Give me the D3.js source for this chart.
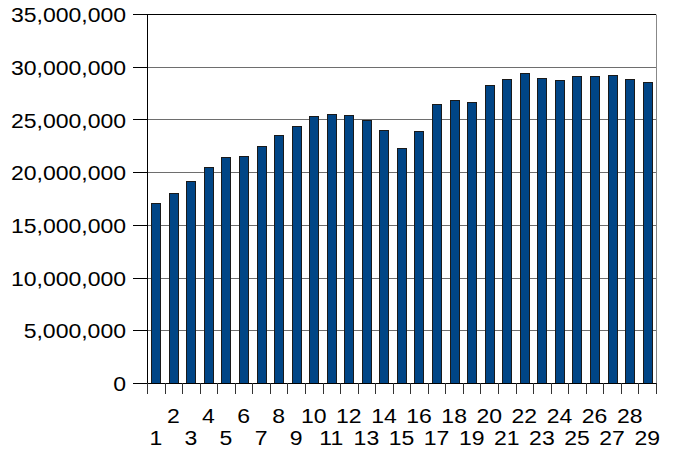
<!DOCTYPE html>
<html>
<head>
<meta charset="utf-8">
<script src="https://cdn.jsdelivr.net/npm/d3@7"></script>
<style>
html, body { margin: 0; padding: 0; background: #fff; }
svg { display: block; }
text { font-family: "Liberation Sans", Arial, sans-serif; fill: #000; }
</style>
</head>
<body>
<svg id="chart" width="674" height="450"></svg>
<script>
const categories = d3.range(1, 30).map(String);
const values = [
  17110000, 18020000, 19160000, 20530000, 21420000, 21540000, 22440000, 23480000,
  24340000, 25290000, 25480000, 25380000, 24940000, 23990000, 22300000, 23860000,
  26460000, 26870000, 26680000, 28240000, 28840000, 29440000, 28960000, 28740000,
  29150000, 29120000, 29250000, 28870000, 28520000
];
const yTicks = [0, 5000000, 10000000, 15000000, 20000000, 25000000, 30000000, 35000000];

const svg = d3.select("#chart");
const pLeft = 147, pRight = 656, pTop = 14, pBottom = 383;
const sx = 1.18, fs = 19.5;

const x = d3.scaleBand().domain(categories).range([pLeft, pRight]).paddingInner(0).paddingOuter(0);
const y = d3.scaleLinear().domain([0, 35000000]).range([pBottom, pTop]);
const fmt = d3.format(",");

// gridlines
svg.append("g").selectAll("line").data(yTicks.filter(d => d > 0)).join("line")
  .attr("x1", pLeft).attr("x2", pRight)
  .attr("y1", d => Math.round(y(d)) + 0.5).attr("y2", d => Math.round(y(d)) + 0.5)
  .attr("stroke", d => d === 35000000 ? "#000" : "#6e6e6e").attr("stroke-width", 1);

// right border
svg.append("line").attr("x1", pRight + 0.5).attr("x2", pRight + 0.5)
  .attr("y1", Math.round(pTop) + 0.5).attr("y2", pBottom).attr("stroke", "#888");

// bars
const bw = x.bandwidth() * 0.52;
svg.append("g").selectAll("rect").data(values).join("rect")
  .attr("x", (d, i) => Math.round(x(categories[i]) + (x.bandwidth() - bw) / 2) + 0.5)
  .attr("width", Math.round(bw))
  .attr("y", d => Math.round(y(d)) + 0.5)
  .attr("height", d => Math.round(y(0)) - Math.round(y(d)))
  .attr("fill", "#004586").attr("stroke", "#1a1a1a").attr("stroke-width", 1);

// y axis
const yAxis = svg.append("g");
yAxis.append("line").attr("x1", pLeft + 0.5).attr("x2", pLeft + 0.5)
  .attr("y1", pTop).attr("y2", pBottom + 11).attr("stroke", "#000");
yAxis.selectAll("line.tk").data(yTicks).join("line").attr("class", "tk")
  .attr("x1", pLeft - 14).attr("x2", pLeft)
  .attr("y1", d => Math.round(y(d)) + 0.5).attr("y2", d => Math.round(y(d)) + 0.5)
  .attr("stroke", "#000");
yAxis.selectAll("text").data(yTicks).join("text")
  .attr("transform", d => `translate(126,${y(d) + 8.2}) scale(${sx},1)`)
  .attr("text-anchor", "end").attr("font-size", fs)
  .text(d => fmt(d));

// x axis
const xAxis = svg.append("g");
xAxis.append("line").attr("x1", pLeft).attr("x2", pRight + 1)
  .attr("y1", pBottom + 0.5).attr("y2", pBottom + 0.5).attr("stroke", "#000");
const bounds = categories.map(c => x(c)).concat([pRight]);
xAxis.selectAll("line.tk").data(bounds).join("line").attr("class", "tk")
  .attr("x1", d => Math.round(d) + 0.5).attr("x2", d => Math.round(d) + 0.5)
  .attr("y1", pBottom).attr("y2", pBottom + 11)
  .attr("stroke", "#333");
xAxis.selectAll("text").data(categories).join("text")
  .attr("transform", (d, i) => `translate(${x(d) + x.bandwidth() / 2},${i % 2 === 1 ? 422.5 : 445}) scale(${sx},1)`)
  .attr("text-anchor", "middle").attr("font-size", fs)
  .text(d => d);
</script>
</body>
</html>
